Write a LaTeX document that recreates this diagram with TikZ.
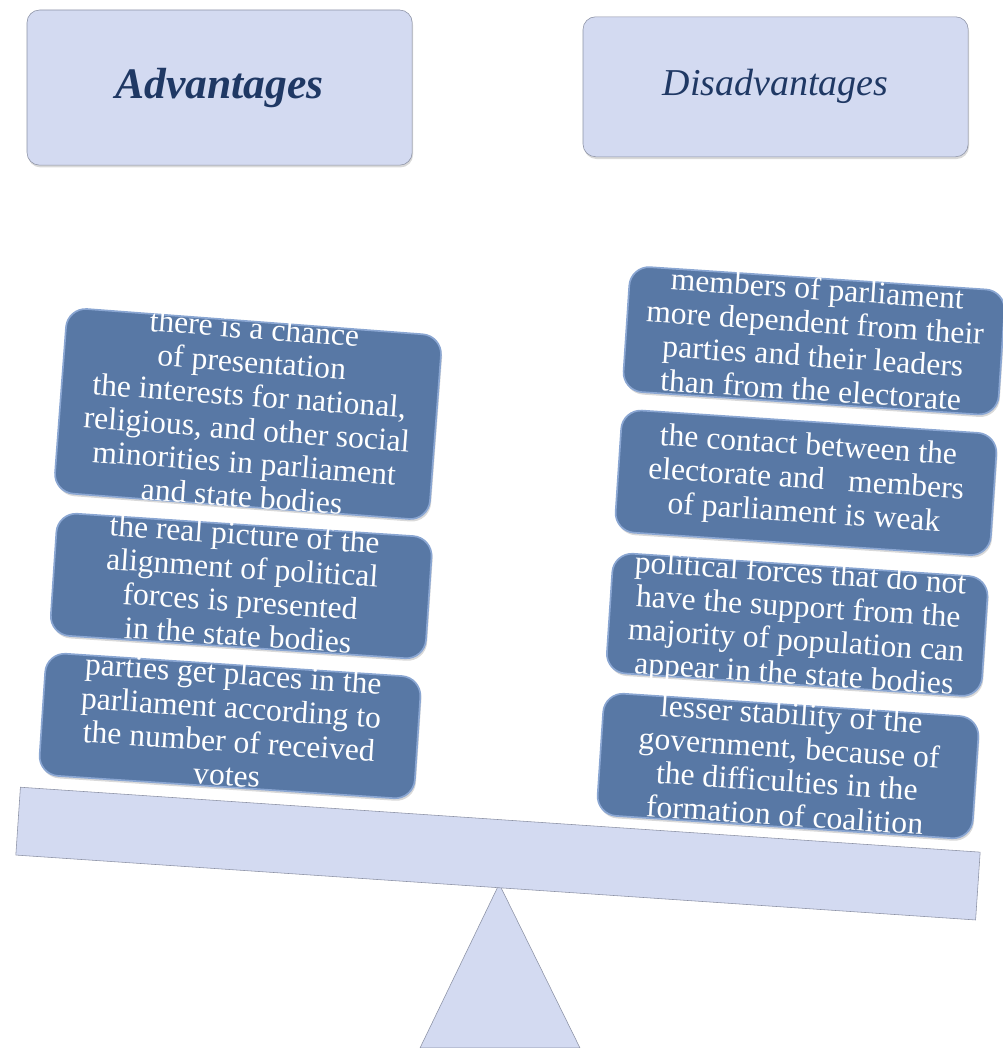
\documentclass[tikz,border=0pt]{standalone}
\usepackage{fontspec}
\setmainfont{Liberation Serif}
\usepackage{tikz}
\usetikzlibrary{shadows}

\definecolor{headfill}{RGB}{211,218,241}
\definecolor{headline}{RGB}{140,146,165}
\definecolor{headtext}{RGB}{31,56,100}
\definecolor{argfill}{RGB}{88,120,165}
\definecolor{argline}{RGB}{138,166,210}

\newcommand{\argtext}[1]{\parbox[c][0pt][c]{9.4cm}{\centering\fontsize{22.5}{24}\selectfont #1}}

\begin{document}
\begin{tikzpicture}[
			head/.style={draw=headline, fill=headfill, rounded corners=9pt,
				minimum width=9.63cm, inner sep=0pt, text=headtext,
				drop shadow={opacity=0.3, shadow xshift=0.6pt, shadow yshift=-1.6pt}},
			argbox/.style={draw=argline, fill=argfill, line width=1.2pt, rounded corners=14pt,
				minimum width=9.35cm, minimum height=3.06cm, inner sep=0pt,
				text=white, rotate=-3.8,
				drop shadow={opacity=0.3, shadow xshift=0.8pt, shadow yshift=-1.8pt}},
			beamnd/.style={draw=headline, fill=headfill, thin, rotate=-3.87,
				minimum width=24.05cm, minimum height=1.7cm, inner sep=0pt},
			pivot/.style={draw=headline, fill=headfill, thin},
			]
			
			\useasboundingbox (0,0) rectangle (25.075,26.2);
			
			%% ── Headings ─────────────────────────────────────────────────────────────────
			\node[head, minimum height=3.88cm] (adv) at (5.49, 24.01)
			{\fontsize{31}{33}\selectfont\bfseries\itshape Advantages};
			
			\node[head, minimum height=3.5cm] (dis) at (19.39, 24.03)
			{\fontsize{27}{29}\selectfont\itshape Disadvantages};
			
			%% ── Scales: pivot and beam ───────────────────────────────────────────────────
			\draw[pivot] (10.5, 0) -- (12.48, 4.1) -- (14.5, 0) -- cycle;
			
			\node[beamnd] (beam) at (12.45, 4.86) {};
			
			%% ── Advantages (left pan) ────────────────────────────────────────────────────
			\node[argbox, minimum height=4.63cm, rotate=-0.5] (adv1) at (6.20, 15.85)
			{\argtext{there is a chance\\ of presentation\\ the interests for national,\\
					religious, and other social\\ minorities in parliament\\ and state bodies}};
			
			\node[argbox] (adv2) at (6.03, 11.55)
			{\argtext{the real picture of the\\ alignment of political\\
					forces is presented\\ in the state bodies}};
			
			\node[argbox] (adv3) at (5.75, 8.05)
			{\argtext{parties get places in the\\ parliament according to\\
					the number of received\\ votes}};
			
			%% ── Disadvantages (right pan) ────────────────────────────────────────────────
			\node[argbox, minimum height=3.13cm] (dis1) at (20.35, 17.68)
			{\argtext{members of parliament\\ more dependent from their\\
					parties and their leaders\\ than from the electorate}};
			
			\node[argbox] (dis2) at (20.15, 14.13)
			{\argtext{the contact between the\\ electorate and\ \ \ members\\
					of parliament is weak}};
			
			\node[argbox, minimum height=3.0cm] (dis3) at (19.93, 10.58)
			{\argtext{\vspace*{4pt}political forces that do not\\ have the support from the\\
					majority of population can\\ appear in the state bodies}};
			
			\node[argbox] (dis4) at (19.70, 7.05)
			{\argtext{lesser stability of the\\ government, because of\\
					the difficulties in the\\ formation of coalition}};
			
		\end{tikzpicture}
\end{document}
